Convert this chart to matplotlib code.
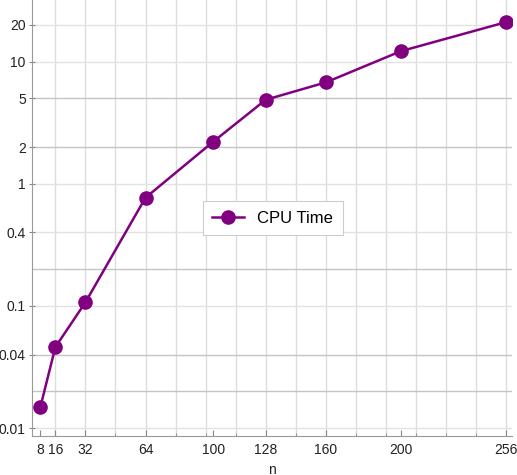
import numpy as np
import matplotlib
matplotlib.use("Agg")
from matplotlib import pyplot as plt

# data
n_values = [8, 16, 32, 64, 100, 128, 160, 200, 256]
cpu_time = [0.0148, 0.046, 0.107, 0.77, 2.21, 4.88, 6.77, 12.2, 21.1]

x_ticks = [8, 16, 32, 64, 100, 128, 160, 200, 256]
y_ticks = [0.01, 0.04, 0.1, 0.4, 1, 2, 5, 10, 20]
y_tick_labels = ["0.01", "0.04", "0.1", "0.4", "1", "2", "5", "10", "20"]

# grid lines (style only)
x_grid = list(range(16, 257, 16))
y_grid_light = [0.01, 0.1, 0.4, 1, 10, 20]
y_grid_dark = [0.02, 0.04, 0.2, 2, 5]

plt.rcParams['font.family'] = ['Liberation Sans', 'DejaVu Sans']

fig = plt.figure(figsize=(5.17, 4.75), dpi=100)
ax = fig.add_axes([0.062, 0.082, 0.928, 0.918])

for gx in x_grid:
    ax.axvline(gx, color='#dcdcdc', lw=1.0, zorder=0)
for gy in y_grid_light:
    ax.axhline(gy, color='#e2e2e2', lw=1.0, zorder=0)
for gy in y_grid_dark:
    ax.axhline(gy, color='#c4c4c4', lw=1.0, zorder=0)

ax.plot(n_values, cpu_time, color='#800080', lw=1.8, marker='o',
        markersize=9.5, label='CPU Time', zorder=3)

ax.set_yscale('log')
ax.set_xlim(3.6, 259)
ax.set_ylim(0.0086, 32)

ax.set_xticks(x_ticks)
ax.set_xticklabels([str(v) for v in x_ticks])
ax.set_xticks(x_grid, minor=True)
ax.set_yticks(y_ticks)
ax.set_yticklabels(y_tick_labels)
ax.yaxis.set_minor_locator(matplotlib.ticker.NullLocator())

ax.tick_params(axis='both', labelsize=10, length=4, width=0.8,
               direction='in', colors='#888888', labelcolor='#222222')
ax.tick_params(axis='x', which='minor', length=2.5, direction='in', colors='#888888')
ax.tick_params(axis='y', direction='inout', length=5, pad=2)
ax.tick_params(axis='x', pad=5)

for side in ['top', 'right']:
    ax.spines[side].set_visible(False)
for side in ['left', 'bottom']:
    ax.spines[side].set_color('#999999')
    ax.spines[side].set_linewidth(0.8)

ax.set_xlabel('n', fontsize=10, color='#222222', labelpad=4)

leg = ax.legend(loc='center', bbox_to_anchor=(0.502, 0.50), fontsize=12,
                frameon=True, fancybox=False, borderpad=0.55, handlelength=1.9,
                handletextpad=0.8, framealpha=1)
leg.get_frame().set_edgecolor('#cccccc')
leg.get_frame().set_linewidth(0.8)

plt.savefig("out.png", dpi=100)
